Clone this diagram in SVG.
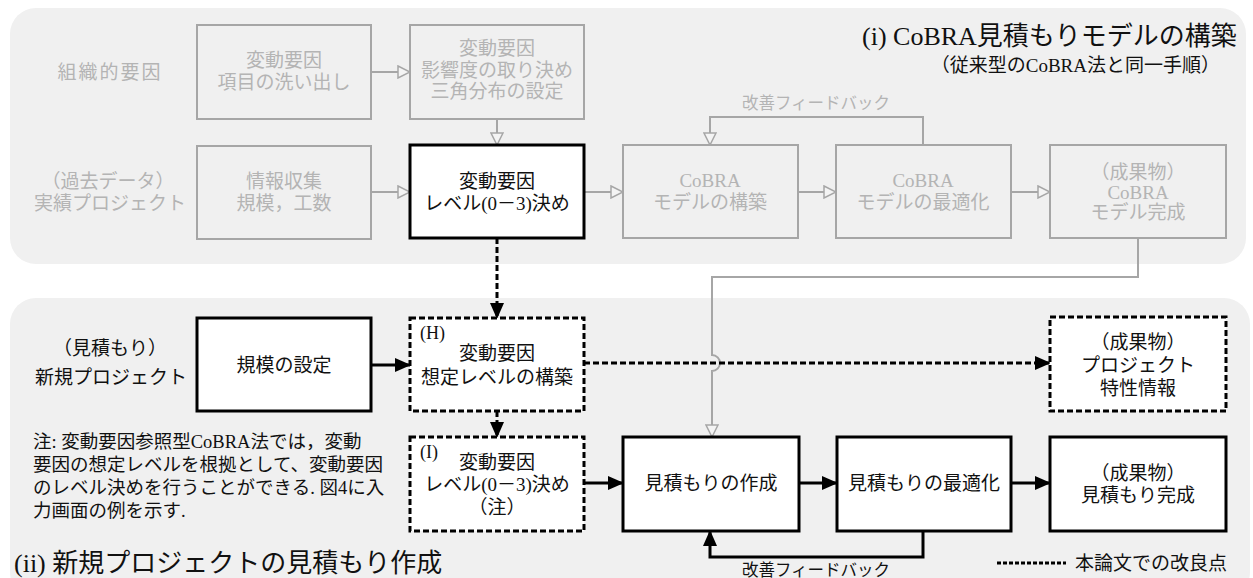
<svg xmlns="http://www.w3.org/2000/svg" width="1253" height="578" viewBox="0 0 1253 578">
<style>
text{font-family:"Liberation Serif","Noto Sans CJK JP",serif;fill:#111;}
.t{font-size:19px;text-anchor:middle;dominant-baseline:central;}
.f{fill:#b4b4b4;}
.fb{fill:none;stroke:#a6a6a6;stroke-width:2;}
.bb{fill:#fff;stroke:#000;stroke-width:3;}
.db{fill:#fff;stroke:#000;stroke-width:3;stroke-dasharray:6 3;}
.gl{fill:none;stroke:#a6a6a6;stroke-width:2;marker-end:url(#ga);}
.bl{fill:none;stroke:#000;stroke-width:3;marker-end:url(#ba);}
.dl{fill:none;stroke:#000;stroke-width:3;stroke-dasharray:6 3;marker-end:url(#ba);}
.bg{fill:#f0f0f0;}
</style>
<defs>
<marker id="ba" markerUnits="userSpaceOnUse" markerWidth="16" markerHeight="14" refX="15" refY="7" orient="auto"><path d="M0,0 L16,7 L0,14 z" fill="#000"/></marker>
<marker id="ga" markerUnits="userSpaceOnUse" markerWidth="14" markerHeight="14" refX="13" refY="7" orient="auto"><path d="M1,1 L13,7 L1,13 z" fill="#f4f4f4" stroke="#a6a6a6" stroke-width="1.5"/></marker>
</defs>
<rect width="1253" height="578" fill="#fff"/>
<g id="regions">
<rect class="bg" x="10" y="8" width="1236" height="256" rx="26"/>
<rect class="bg" x="10" y="298" width="1240" height="300" rx="26"/>
</g>
<g id="titles">
<text x="862" y="45" style="font-size:26px">(i) CoBRA見積もりモデルの構築</text>
<text x="1220" y="65" style="font-size:19px;text-anchor:end;dominant-baseline:central">（従来型のCoBRA法と同一手順）</text>
<text x="14" y="563" style="font-size:26px;dominant-baseline:central">(ii) 新規プロジェクトの見積もり作成</text>
</g>
<g id="side-labels">
<text class="t f" x="110" y="72" style="letter-spacing:2px">組織的要因</text>
<text class="t f" x="108" y="181">（過去データ）</text>
<text class="t f" x="110" y="203">実績プロジェクト</text>
<text class="t" x="110" y="348">（見積もり）</text>
<text class="t" x="111" y="377">新規プロジェクト</text>
</g>
<g id="connectors">
<path class="gl" d="M371,72 H410"/>
<path class="gl" d="M497,119 V145"/>
<path class="gl" d="M371,192 H410"/>
<path class="gl" d="M584,192 H623"/>
<path class="gl" d="M798,192 H836"/>
<path class="gl" d="M1011,192 H1050"/>
<path class="gl" d="M923,145 V117 H710 V145"/>
<text class="t f" x="816" y="103" style="font-size:16.5px">改善フィードバック</text>
<path class="gl" d="M1138,238 V277 H712 V355 A8,8 0 0 1 712,371 V437"/>
<path class="dl" d="M497,238 V318"/>
<path class="bl" d="M371,365 H410"/>
<path class="dl" d="M584,363 H1050"/>
<path class="dl" d="M497,411 V437"/>
<path class="bl" d="M584,483 H623"/>
<path class="bl" d="M799,483 H837"/>
<path class="bl" d="M1011,483 H1050"/>
<path class="bl" d="M923,531 V557 H710 V531"/>
<text class="t" x="816" y="570" style="font-size:16.5px">改善フィードバック</text>
</g>
<g id="node-koumoku">
<rect class="fb" x="197" y="25" width="174" height="94"/>
<text class="t f" x="284" y="60">変動要因</text>
<text class="t f" x="284" y="82">項目の洗い出し</text>
</g>
<g id="node-eikyoudo">
<rect class="fb" x="410" y="25" width="174" height="94"/>
<text class="t f" x="497" y="48">変動要因</text>
<text class="t f" x="497" y="70">影響度の取り決め</text>
<text class="t f" x="497" y="91">三角分布の設定</text>
</g>
<g id="node-joho">
<rect class="fb" x="197" y="146" width="174" height="93"/>
<text class="t f" x="284" y="181">情報収集</text>
<text class="t f" x="284" y="203">規模，工数</text>
</g>
<g id="node-level">
<rect class="bb" x="410" y="145" width="174" height="93"/>
<text class="t" x="497" y="181">変動要因</text>
<text class="t" x="497" y="203">レベル(0－3)決め</text>
</g>
<g id="node-kouchiku">
<rect class="fb" x="623" y="145" width="175" height="93"/>
<text class="t f" x="710" y="180">CoBRA</text>
<text class="t f" x="710" y="202">モデルの構築</text>
</g>
<g id="node-saitekika">
<rect class="fb" x="836" y="145" width="175" height="93"/>
<text class="t f" x="923" y="180">CoBRA</text>
<text class="t f" x="923" y="202">モデルの最適化</text>
</g>
<g id="node-kansei">
<rect class="fb" x="1050" y="145" width="176" height="93"/>
<text class="t f" x="1138" y="172">（成果物）</text>
<text class="t f" x="1138" y="192">CoBRA</text>
<text class="t f" x="1138" y="212">モデル完成</text>
</g>
<g id="node-kibo">
<rect class="bb" x="197" y="318" width="174" height="93"/>
<text class="t" x="284" y="365">規模の設定</text>
</g>
<g id="node-H">
<rect class="db" x="410" y="318" width="174" height="93"/>
<text x="420" y="333" style="font-size:18px;dominant-baseline:central">(H)</text>
<text class="t" x="497" y="353">変動要因</text>
<text class="t" x="497" y="377">想定レベルの構築</text>
</g>
<g id="node-tokusei">
<rect class="db" x="1050" y="317" width="176" height="94"/>
<text class="t" x="1138" y="342">（成果物）</text>
<text class="t" x="1138" y="365">プロジェクト</text>
<text class="t" x="1138" y="388">特性情報</text>
</g>
<g id="node-I">
<rect class="db" x="410" y="437" width="174" height="94"/>
<text x="420" y="452" style="font-size:18px;dominant-baseline:central">(I)</text>
<text class="t" x="497" y="462">変動要因</text>
<text class="t" x="497" y="484">レベル(0－3)決め</text>
<text class="t" x="497" y="507">（注）</text>
</g>
<g id="node-sakusei">
<rect class="bb" x="623" y="437" width="176" height="94"/>
<text class="t" x="711" y="483">見積もりの作成</text>
</g>
<g id="node-mitsumori-saitekika">
<rect class="bb" x="837" y="437" width="174" height="94"/>
<text class="t" x="924" y="483">見積もりの最適化</text>
</g>
<g id="node-mitsumori-kansei">
<rect class="bb" x="1050" y="437" width="176" height="94"/>
<text class="t" x="1138" y="473">（成果物）</text>
<text class="t" x="1138" y="495">見積もり完成</text>
</g>
<g id="note">
<text x="33" y="442" style="font-size:18.5px;dominant-baseline:central">注: 変動要因参照型CoBRA法では，変動</text>
<text x="33" y="465" style="font-size:18.5px;dominant-baseline:central">要因の想定レベルを根拠として、変動要因</text>
<text x="33" y="488" style="font-size:18.5px;dominant-baseline:central">のレベル決めを行うことができる. 図4に入</text>
<text x="33" y="511" style="font-size:18.5px;dominant-baseline:central">力画面の例を示す.</text>
</g>
<g id="legend">
<line x1="997" y1="563" x2="1066" y2="563" stroke="#000" stroke-width="3" stroke-dasharray="4 2"/>
<text x="1075" y="563" style="font-size:19px;dominant-baseline:central">本論文での改良点</text>
</g>
</svg>
